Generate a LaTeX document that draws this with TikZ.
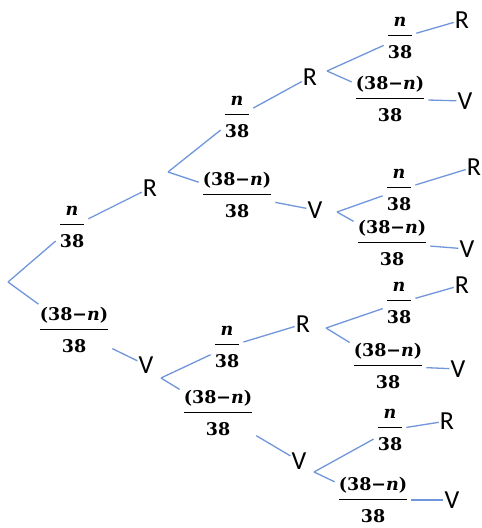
\RequirePackage{fix-cm}
\documentclass[tikz,border=0pt]{standalone}
\usepackage{amsmath}
\usepackage{fontspec}
\newfontfamily\lettersfont{Carlito}
\newfontfamily\fracfont{DejaVu Serif}
\definecolor{bcol}{RGB}{112,150,220}
\newcommand\numstrut{\rule[-4.5pt]{0pt}{4.5pt}}
\newcommand\denstrut{\rule{0pt}{21pt}}
\newcommand\fracN{{\mathversion{bold}$\displaystyle\frac{\mbox{\fracfont\bfseries\itshape n\numstrut}}{\mbox{\fracfont\bfseries\denstrut 38}}$}}
\newcommand\fracM{{\mathversion{bold}$\displaystyle\frac{\mbox{\fracfont\bfseries (38−\textit{n})\numstrut}}{\mbox{\fracfont\bfseries\denstrut 38}}$}}
\begin{document}
\begin{tikzpicture}[x=1pt,y=-1pt,
  br/.style={draw=bcol, line width=1.3pt},
  lt/.style={font=\lettersfont\fontsize{26}{30}\selectfont, inner sep=1pt},
  fr/.style={font=\fontsize{17.5}{20}\selectfont, inner sep=0pt, outer sep=3pt}]
\useasboundingbox[fill=white] (0,0) rectangle (482,528);
% letters
\node[lt] (R1) at (150,188) {R};
\node[lt] (V1) at (146,365) {V};
\node[lt] (R2) at (310,77) {R};
\node[lt] (V2) at (315,210) {V};
\node[lt] (R3) at (303,324) {R};
\node[lt] (V3) at (299,461) {V};
\node[lt] (L1) at (462,20) {R};
\node[lt] (L2) at (465,101) {V};
\node[lt] (L3) at (474,167) {R};
\node[lt] (L4) at (467,249) {V};
\node[lt] (L5) at (462,285) {R};
\node[lt] (L6) at (458,369) {V};
\node[lt] (L7) at (447,421) {R};
\node[lt] (L8) at (452,500) {V};
% labels
\node[fr] (f0u) at (72,227) {\fracN};
\node[fr] (f0d) at (74,330) {\fracM};
\node[fr] (f1u) at (237,117) {\fracN};
\node[fr] (f1d) at (237,195) {\fracM};
\node[fr] (f2u) at (227,347) {\fracN};
\node[fr] (f2d) at (218,413) {\fracM};
\node[fr] (f3u) at (400,38) {\fracN};
\node[fr] (f3d) at (390,99) {\fracM};
\node[fr] (f4u) at (399,190) {\fracN};
\node[fr] (f4d) at (392,243) {\fracM};
\node[fr] (f5u) at (399,303) {\fracN};
\node[fr] (f5d) at (388,366) {\fracM};
\node[fr] (f6u) at (390,430) {\fracN};
\node[fr] (f6d) at (373,500) {\fracM};
% split points
\coordinate (s0) at (8,282);
\coordinate (s1) at (168,172);
\coordinate (s2) at (161,378);
\coordinate (s3) at (327,71);
\coordinate (s4) at (337,212);
\coordinate (s5) at (326,328);
\coordinate (s6) at (314,472);
% branches
\draw[br] (s0) -- (f0u); \draw[br] (f0u) -- (R1);
\draw[br] (s0) -- (f0d); \draw[br] (f0d) -- (V1);
\draw[br] (s1) -- (f1u); \draw[br] (f1u) -- (R2);
\draw[br] (s1) -- (f1d); \draw[br] (f1d) -- (V2);
\draw[br] (s2) -- (f2u); \draw[br] (f2u) -- (R3);
\draw[br] (s2) -- (f2d); \draw[br] (f2d) -- (V3);
\draw[br] (s3) -- (f3u); \draw[br] (f3u) -- (L1);
\draw[br] (s3) -- (f3d); \draw[br] (f3d) -- (L2);
\draw[br] (s4) -- (f4u); \draw[br] (f4u) -- (L3);
\draw[br] (s4) -- (f4d); \draw[br] (f4d) -- (L4);
\draw[br] (s5) -- (f5u); \draw[br] (f5u) -- (L5);
\draw[br] (s5) -- (f5d); \draw[br] (f5d) -- (L6);
\draw[br] (s6) -- (f6u); \draw[br] (f6u) -- (L7);
\draw[br] (s6) -- (f6d); \draw[br] (f6d) -- (L8);
\end{tikzpicture}
\end{document}
